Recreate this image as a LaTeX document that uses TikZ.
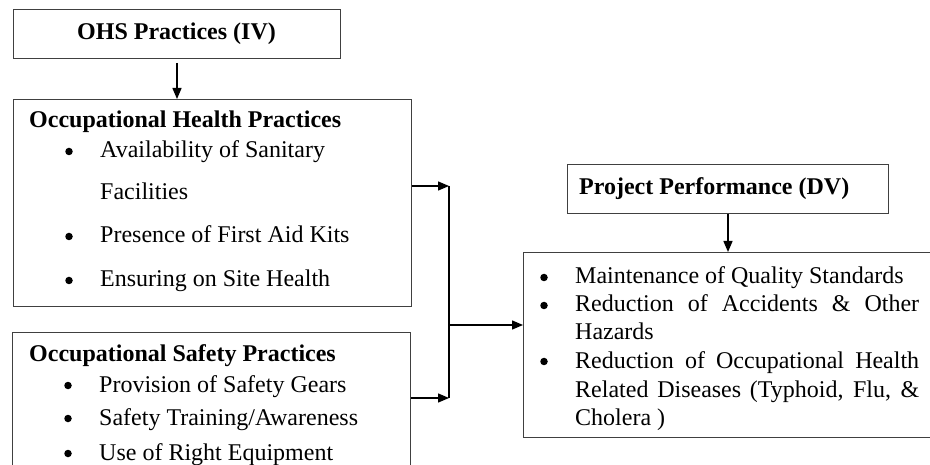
\documentclass[tikz,border=0pt]{standalone}
\usepackage{fontspec}
\setmainfont{Liberation Serif}
\usetikzlibrary{arrows.meta}
\begin{document}
\begin{tikzpicture}[x=1pt,y=-1pt,
  box/.style={draw=black!75,line width=1pt,inner sep=0pt,anchor=north west},
  txt/.style={anchor=base west,inner sep=0pt,font=\fontsize{24}{28}\selectfont},
  hd/.style={anchor=base west,inner sep=0pt,font=\fontsize{24}{28}\selectfont\bfseries},
  bul/.style={circle,fill=black,inner sep=0pt,minimum size=7.5pt},
  conn/.style={line width=1.4pt,-{Triangle[length=11pt,width=9pt]}},
  bar/.style={line width=1.6pt}]
\useasboundingbox (0,0) rectangle (930,465);
\clip (0,0) rectangle (930,465);
% boxes
\node[box,minimum width=327pt,minimum height=49pt] (ohs) at (13,9) {};
\node[box,minimum width=398pt,minimum height=207pt] (health) at (13,99) {};
\node[box,minimum width=398pt,minimum height=170pt] (safety) at (12,332) {};
\node[box,minimum width=321pt,minimum height=49pt] (ppt) at (567,164) {};
\node[box,minimum width=440pt,minimum height=185pt] (ppc) at (523,252) {};
% texts
\node[hd] (tohs) at (77,40) {OHS Practices (IV)};
\node[hd] (th) at (29,128) {Occupational Health Practices};
\node[bul] (bh1) at (69,151.5) {};
\node[txt] (th1) at (100,158) {Availability of Sanitary};
\node[txt] (th1b) at (100,200) {Facilities};
\node[bul] (bh2) at (69,236.5) {};
\node[txt] (th2) at (100,243) {Presence of First Aid Kits};
\node[bul] (bh3) at (69,280.5) {};
\node[txt] (th3) at (100,287) {Ensuring on Site Health};
\node[hd] (ts) at (29,362) {Occupational Safety Practices};
\node[bul] (bs1) at (68,385.5) {};
\node[txt] (ts1) at (99,392) {Provision of Safety Gears};
\node[bul] (bs2) at (68,418.5) {};
\node[txt] (ts2) at (99,425) {Safety Training/Awareness};
\node[bul] (bs3) at (68,453.5) {};
\node[txt] (ts3) at (99,460) {Use of Right Equipment};
\node[hd] (tpp) at (579,195) {Project Performance (DV)};
\node[bul] (bp1) at (544,277.5) {};
\node[txt] (tp1) at (575,284) {Maintenance of Quality Standards};
\node[bul] (bp2) at (544,305.5) {};
\node[txt] (tp2) at (575,312) {\makebox[344pt][s]{Reduction of Accidents \& Other}};
\node[txt] (tp2b) at (575,340) {Hazards};
\node[bul] (bp3) at (544,361.5) {};
\node[txt] (tp3) at (575,368) {\makebox[344pt][s]{Reduction of Occupational Health}};
\node[txt] (tp3b) at (575,397) {\makebox[344pt][s]{Related Diseases (Typhoid, Flu, \&}};
\node[txt] (tp3c) at (575,425) {Cholera )};
% connectors
\coordinate (jt) at (449,186);
\coordinate (jb) at (449,398);
\coordinate (jm) at (450,325);
\draw[conn,shorten <=4pt] (ohs.south) -- (health.north -| ohs.south);
\draw[conn] (health.east |- jt) -- (jt);
\draw[conn] (safety.east |- jb) -- (jb);
\draw[bar] (jt) -- (jb);
\draw[conn] (jm) -- (ppc.west |- jm);
\draw[conn] (ppt.south) -- (ppc.north -| ppt.south);
\end{tikzpicture}
\end{document}
